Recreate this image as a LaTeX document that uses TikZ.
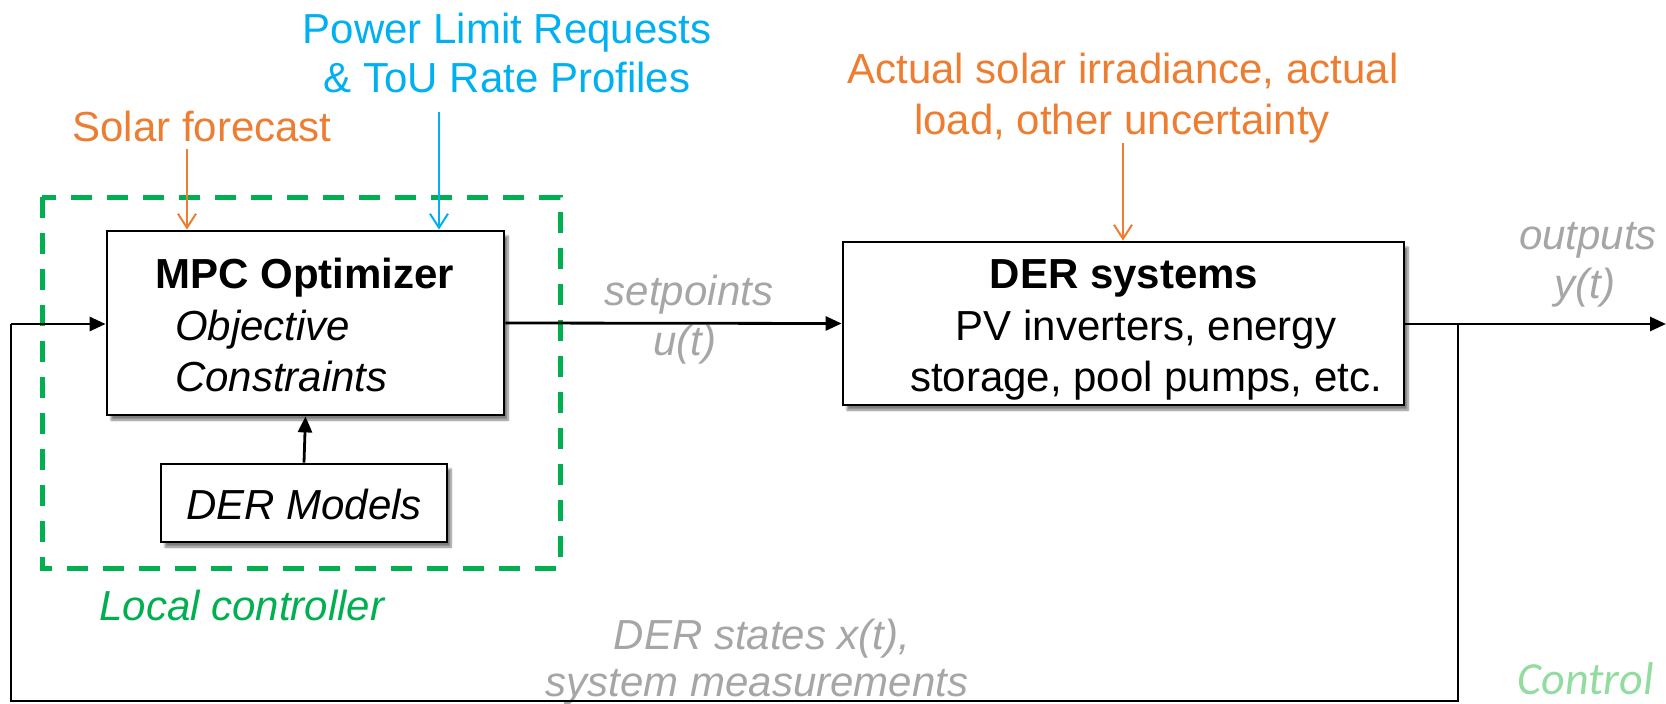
\documentclass[tikz,border=0pt]{standalone}
\usepackage{fontspec}
\setmainfont{Liberation Sans}
\newfontfamily\calfont{Carlito}
\usetikzlibrary{arrows.meta,shadows.blur}

\definecolor{dOrange}{RGB}{237,125,49}
\definecolor{dCyan}{RGB}{0,176,240}
\definecolor{dGreen}{RGB}{0,176,80}
\definecolor{dGray}{RGB}{166,166,166}
\definecolor{dMint}{RGB}{146,220,160}

\begin{document}
\begin{tikzpicture}[x=1pt,y=-1pt,
  txt/.style={inner sep=0pt, anchor=base, font=\fontsize{42}{50}\selectfont},
  block/.style={draw=black, line width=2.8pt, fill=white, inner sep=0pt,
    blur shadow={shadow xshift=4pt, shadow yshift=-5pt, shadow blur steps=6, shadow opacity=50}},
  wire/.style={draw=black, line width=2.8pt},
  sig/.style={wire, -{Triangle[length=16pt,width=14pt]}},
  inflow/.style={line width=2pt, -{Straight Barb[length=14pt,width=18pt,line width=2pt]}},
  frame/.style={draw=dGreen, line width=5pt, dash pattern=on 21pt off 15pt},
]
\path[use as bounding box, clip] (0,0) rectangle (1666,704);

% local controller frame
\draw[frame] (42,197) rectangle (560,568);

% blocks
\node[block, minimum width=397pt, minimum height=184pt] (mpc) at (305.5,323) {};
\node[block, minimum width=286pt, minimum height=78pt] (models) at (304,503) {};
\node[block, minimum width=561pt, minimum height=163pt] (der) at (1123.5,323.5) {};

% block texts
\node[txt, font=\fontsize{42}{50}\selectfont\bfseries] (mpct) at (305,288) {MPC Optimizer};
\node[txt, anchor=base west, font=\fontsize{42}{50}\selectfont\itshape] (obj) at (175,340) {Objective};
\node[txt, anchor=base west, font=\fontsize{42}{50}\selectfont\itshape] (con) at (175,391) {Constraints};
\node[txt, font=\fontsize{42}{50}\selectfont\itshape] (modt) at (304,519) {DER Models};
\node[txt, font=\fontsize{42}{50}\selectfont\bfseries] (dert) at (1124,288) {DER systems};
\node[txt] (der1) at (1146,340) {PV inverters, energy};
\node[txt] (der2) at (1146,391) {storage, pool pumps, etc.};

% external inputs
\node[txt, text=dCyan] (plr1) at (507,43) {Power Limit Requests};
\node[txt, text=dCyan] (plr2) at (507,92) {\& ToU Rate Profiles};
\node[txt, text=dOrange] (solar) at (202,141) {Solar forecast};
\node[txt, text=dOrange] (unc1) at (1123,83) {Actual solar irradiance, actual};
\node[txt, text=dOrange] (unc2) at (1122,134) {load, other uncertainty};

\coordinate (solarend) at (187,149);
\coordinate (plrend) at (439,112);
\coordinate (uncend) at (1123,143);
\draw[inflow, dOrange] (solarend) -- (solarend |- mpc.north);
\draw[inflow, dCyan] (plrend) -- (plrend |- mpc.north);
\draw[inflow, dOrange] (uncend) -- (uncend |- der.north);

% signal labels
\node[txt, font=\fontsize{42}{50}\selectfont\itshape, text=dGray] (spt) at (689,305) {setpoints};
\node[txt, font=\fontsize{42}{50}\selectfont\itshape, text=dGray] (ut) at (685,355) {u(t)};
\node[txt, font=\fontsize{42}{50}\selectfont\itshape, text=dGray] (outl) at (1588,249) {outputs};
\node[txt, font=\fontsize{42}{50}\selectfont\itshape, text=dGray] (yt) at (1585,298) {y(t)};
\node[txt, font=\fontsize{42}{50}\selectfont\itshape, text=dGreen] (lc) at (242,620) {Local controller};
\node[txt, font=\fontsize{42}{50}\selectfont\itshape, text=dGray] (st1) at (762,649) {DER states x(t),};
\node[txt, font=\fontsize{42}{50}\selectfont\itshape, text=dGray] (st2) at (757,696) {system measurements};
\node[txt, anchor=base east, font=\fontsize{46}{52}\selectfont\calfont\itshape, text=dMint] (ctl) at (1654,694) {Control};

% connections
\coordinate (outend) at (1666,324);
\coordinate (tap) at (1458,324);
\coordinate (fbr) at (1458,701);
\coordinate (fbl) at (11,701);
\coordinate (fbin) at (11,324);
\draw[sig] (mpc.east) -- (der.west);
\draw[sig] (models.north) -- (mpc.south);
\draw[sig] (der.east |- outend) -- (outend);
\draw[wire] (tap) -- (fbr) -- (fbl) -- (fbin);
\draw[sig] (fbin) -- (fbin -| mpc.west);
\end{tikzpicture}
\end{document}
